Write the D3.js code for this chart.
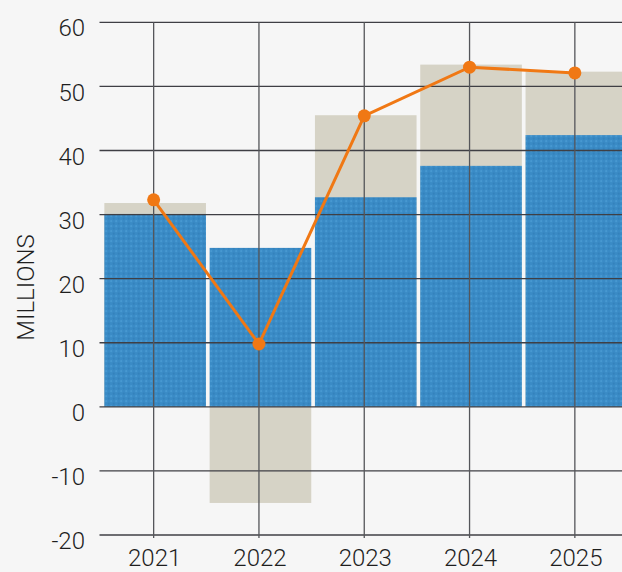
<html>
<head>
<meta charset="utf-8">
<script src="https://cdn.jsdelivr.net/npm/d3@7"></script>
<style>
  body { margin: 0; background: #f6f6f6; }
  svg text { font-family: Roboto, "Liberation Sans", sans-serif; font-weight: 300; fill: #1e1e1e; }
</style>
</head>
<body>
<div id="chart"></div>
<script>
// chart data
var years = ["2021", "2022", "2023", "2024", "2025"],
    totals = [31.8, -15.0, 45.5, 53.4, 52.3],
    parts = [30.1, 24.8, 32.7, 37.6, 42.4],
    lineVals = [32.3, 9.8, 45.4, 53.0, 52.1],
    yTicks = [-20, -10, 0, 10, 20, 30, 40, 50, 60];

var width = 622, height = 572;

var svg = d3.select("#chart").append("svg")
    .attr("width", width).attr("height", height);

// dotted texture for the blue bars
var pat = svg.append("defs").append("pattern")
    .attr("id", "dots").attr("patternUnits", "userSpaceOnUse")
    .attr("width", 5).attr("height", 5);
pat.append("rect").attr("width", 5).attr("height", 5).attr("fill", "#3a8bc6");
pat.append("circle").attr("cx", 1.2).attr("cy", 1.2).attr("r", 1.1).attr("fill", "#4798d1");
pat.append("circle").attr("cx", 3.7).attr("cy", 3.7).attr("r", 1.1).attr("fill", "#3482bc");

var x = d3.scaleBand().domain(years).range([101, 627.5]).paddingInner(0.035).paddingOuter(0.0175);
var y = d3.scaleLinear().domain([-20, 60]).range([535, 22.3]);
var barShift = 1.5; // bars sit a bit right of the grid lines

function mid(d) { return x(d) + x.bandwidth() / 2; }

// beige totals
svg.selectAll(".total").data(years).enter().append("rect")
    .attr("x", function(d) { return x(d) + barShift; })
    .attr("width", x.bandwidth())
    .attr("y", function(d, i) { return y(Math.max(0, totals[i])); })
    .attr("height", function(d, i) { return Math.abs(y(totals[i]) - y(0)); })
    .attr("fill", "#d6d3c6");

// blue parts
svg.selectAll(".part").data(years).enter().append("rect")
    .attr("x", function(d) { return x(d) + barShift; })
    .attr("width", x.bandwidth())
    .attr("y", function(d, i) { return y(Math.max(0, parts[i])); })
    .attr("height", function(d, i) { return Math.abs(y(parts[i]) - y(0)); })
    .attr("fill", "url(#dots)");

// grid on top of the bars
svg.selectAll(".hgrid").data(yTicks).enter().append("line")
    .attr("x1", 99.5).attr("x2", width)
    .attr("y1", function(d) { return y(d); })
    .attr("y2", function(d) { return y(d); })
    .attr("stroke", "#3f3f44").attr("stroke-width", 1.3);

svg.selectAll(".vgrid").data(years).enter().append("line")
    .attr("x1", mid).attr("x2", mid)
    .attr("y1", y(60)).attr("y2", y(-20) + 3)
    .attr("stroke", "#55565a").attr("stroke-width", 1.3);

// y labels
svg.selectAll(".ylab").data(yTicks).enter().append("text")
    .attr("x", 85)
    .attr("y", function(d) { return y(d) + 5.5; })
    .attr("dy", "0.36em")
    .attr("text-anchor", "end")
    .attr("font-size", 24)
    .text(function(d) { return d; });

// x labels
svg.selectAll(".xlab").data(years).enter().append("text")
    .attr("x", function(d) { return mid(d) + 1; })
    .attr("y", 566)
    .attr("text-anchor", "middle")
    .attr("font-size", 24)
    .text(function(d) { return d; });

svg.append("text")
    .attr("transform", "translate(34,287.5) rotate(-90)")
    .attr("text-anchor", "middle")
    .attr("font-size", 24)
    .text("MILLIONS");

// orange line
var line = d3.line()
    .x(function(d, i) { return mid(years[i]); })
    .y(function(d) { return y(d); });

svg.append("path").datum(lineVals)
    .attr("d", line)
    .attr("fill", "none")
    .attr("stroke", "#f07814")
    .attr("stroke-width", 3);

svg.selectAll(".pt").data(lineVals).enter().append("circle")
    .attr("cx", function(d, i) { return mid(years[i]); })
    .attr("cy", function(d) { return y(d); })
    .attr("r", 6.5)
    .attr("fill", "#f07814");
</script>
</body>
</html>
